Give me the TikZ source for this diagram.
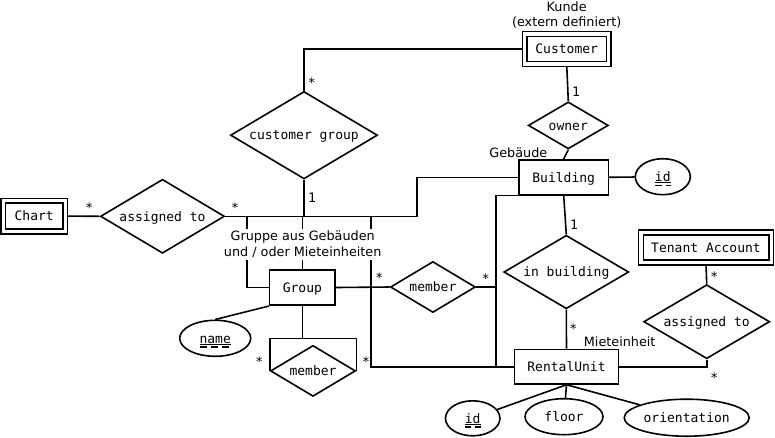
\documentclass[tikz,border=0pt]{standalone}
\usepackage{fontspec}
\setmainfont{DejaVu Sans}
\newfontfamily\ermono{DejaVu Sans Mono}
\usetikzlibrary{shapes.geometric,backgrounds}

\begin{document}
\begin{tikzpicture}[x=1pt,y=-1pt,line width=1.6pt,
  monotext/.style={font=\ermono\fontsize{13}{15}\selectfont},
  boxtext/.style={monotext, text height=9.5pt, text depth=0pt, inner sep=0pt, fill=white, draw, line width=1.6pt},
  entity/.style 2 args={boxtext, rectangle, minimum width=#1, minimum height=#2},
  wentity/.style 2 args={entity={#1}{#2}, line width=1.6pt, double, double distance=3.2pt},
  rel/.style n args={3}{boxtext, diamond, minimum width=#1, minimum height=#2, aspect=#3},
  attr/.style 2 args={boxtext, ellipse, minimum width=#1, minimum height=#2},
  card/.style={monotext, anchor=base, inner sep=0pt},
  note/.style={font=\fontsize{12.8}{14.8}\selectfont, inner sep=0pt},
  link/.style={line width=1.6pt},
  keyline/.style={line width=0.8pt},
  keybar/.style={line width=1.9pt},
]
\useasboundingbox (0,0) rectangle (775,437);

% entities
\node[wentity={84pt}{30pt}] (cust) at (566.7,48.9) {Customer};
\node[entity={89.3pt}{35pt}] (bld) at (563.7,177.3) {Building};
\node[wentity={62pt}{30.8pt}] (chart) at (34.2,216.1) {Chart};
\node[entity={65.5pt}{35.5pt}] (grp) at (302.4,287.5) {Group};
\node[entity={104pt}{34.5pt}] (ru) at (566.5,366.7) {RentalUnit};
\node[wentity={130.2pt}{30.3pt}] (ta) at (706,247.5) {Tenant Account};

% relationships
\node[rel={80pt}{47pt}{1.7}] (owner) at (568.3,125.4) {owner};
\node[rel={147pt}{87.5pt}{1.68}] (cg) at (304,135.2) {customer group};
\node[rel={124pt}{74pt}{1.68}] (asg1) at (162.5,216.3) {assigned to};
\node[rel={85pt}{51pt}{1.67}] (mem1) at (432.9,287) {member};
\node[rel={85pt}{51pt}{1.67}] (mem2) at (313,370.9) {member};
\node[rel={125pt}{73.5pt}{1.7}] (inbld) at (566.3,272) {in building};
\node[rel={126pt}{74pt}{1.7}] (asg2) at (706.7,321.7) {assigned to};

% attributes
\node[attr={55pt}{36pt}] (bid) at (662.8,176.7) {id};
\node[attr={71pt}{36pt}] (name) at (215.2,338.3) {name};
\node[attr={54.5pt}{35pt}] (rid) at (472.7,418.3) {id};
\node[attr={78pt}{36pt}] (floor) at (564,416.7) {floor};
\node[attr={125pt}{37pt}] (orient) at (686.7,417.7) {orientation};

% partial key markings: thin underline plus a row of short bars
\draw[keyline] ([xshift=-7.8pt,yshift=-5.6pt]bid.center) -- ++(15.6,0);
\draw[keybar] ([xshift=-7.8pt,yshift=-8.8pt]bid.center) -- ++(6.5,0) ++(4,0) -- ++(5.1,0);
\draw[keyline] ([xshift=-7.8pt,yshift=-5.6pt]rid.center) -- ++(15.6,0);
\draw[keybar] ([xshift=-7.8pt,yshift=-8.8pt]rid.center) -- ++(6.5,0) ++(4,0) -- ++(5.1,0);
\draw[keyline] ([xshift=-15.6pt,yshift=-5.6pt]name.center) -- ++(31.2,0);
\draw[keybar] ([xshift=-15.6pt,yshift=-8.8pt]name.center) -- ++(7,0) ++(4,0) -- ++(7,0) ++(4,0) -- ++(7,0);

% annotations
\node[note, align=center, anchor=south] (kunde) at (566.7,29) {Kunde\\(extern definiert)};
\node[note, anchor=base] (geb) at (518.3,157.7) {Gebäude};
\node[note, anchor=base] (mie) at (619.7,346.7) {Mieteinheit};
\node[note, align=center, fill=white, inner xsep=1pt, inner ysep=2pt, anchor=south,
      font=\fontsize{12.8}{15.6}\selectfont] (gtext) at (302.7,260.5)
      {Gruppe aus Gebäuden\\und / oder Mieteinheiten};

% cardinalities
\node[card] (c1) at (311.7,87) {*};
\node[card] (c2) at (312,202.7) {1};
\node[card] (c3) at (576,96.7) {1};
\node[card] (c4) at (89.3,212) {*};
\node[card] (c5) at (235,212) {*};
\node[card] (c6) at (379.3,282.5) {*};
\node[card] (c7) at (485.7,283) {*};
\node[card] (c8) at (574,229) {1};
\node[card] (c9) at (573.3,333.8) {*};
\node[card] (c10) at (714.3,281.2) {*};
\node[card] (c11) at (714.3,382.8) {*};
\node[card] (c12) at (259.3,366.8) {*};
\node[card] (c13) at (366,366.8) {*};

% connectors
\coordinate (busR) at (417,216.3);
\coordinate (tapA) at (247,216.3);
\coordinate (tapC) at (371,216.3);
\coordinate (rise) at (495.7,287);
\coordinate (loop) at (302.4,338.3);
\begin{scope}[on background layer, link]
  \draw[link] (cust.west) -| (cg.north);
  \draw[link] (cust.south) -- (owner.north);
  \draw[link] (owner.south) -- (bld.north);
  \draw[link] (bld.east) -- (bid);
  \draw[link] (bld.south) -- (inbld.north);
  \draw[link] (inbld.south) -- (ru.north);
  \draw[link] (chart.east) -- (asg1.west);
  \draw[link] (asg1.east) -- (busR) |- (bld.west);
  \draw[link] (cg.south) -- (cg.south |- busR);
  \draw[link] (tapA) |- (grp.west);
  \draw[link] (grp.north) -- (grp.north |- busR);
  \draw[link] (tapC) |- (ru.west);
  \draw[link] (grp.east) -- (mem1.west);
  \draw[link] (mem1.east) -- (rise);
  \draw[link] (bld.south west) -| (rise |- ru.west);
  \draw[link] (grp.south west) -- (name.north);
  \draw[link] (grp.south) -- (loop);
  \draw[link] (mem2.west) |- (loop) -| (mem2.east);
  \draw[link] (ta.south) -- (asg2.north);
  \draw[link] (asg2.south) |- (ru.east);
  \draw[link] (ru.south) -- (rid);
  \draw[link] (ru.south) -- (floor);
  \draw[link] (ru.south) -- (orient);
\end{scope}
\end{tikzpicture}
\end{document}
